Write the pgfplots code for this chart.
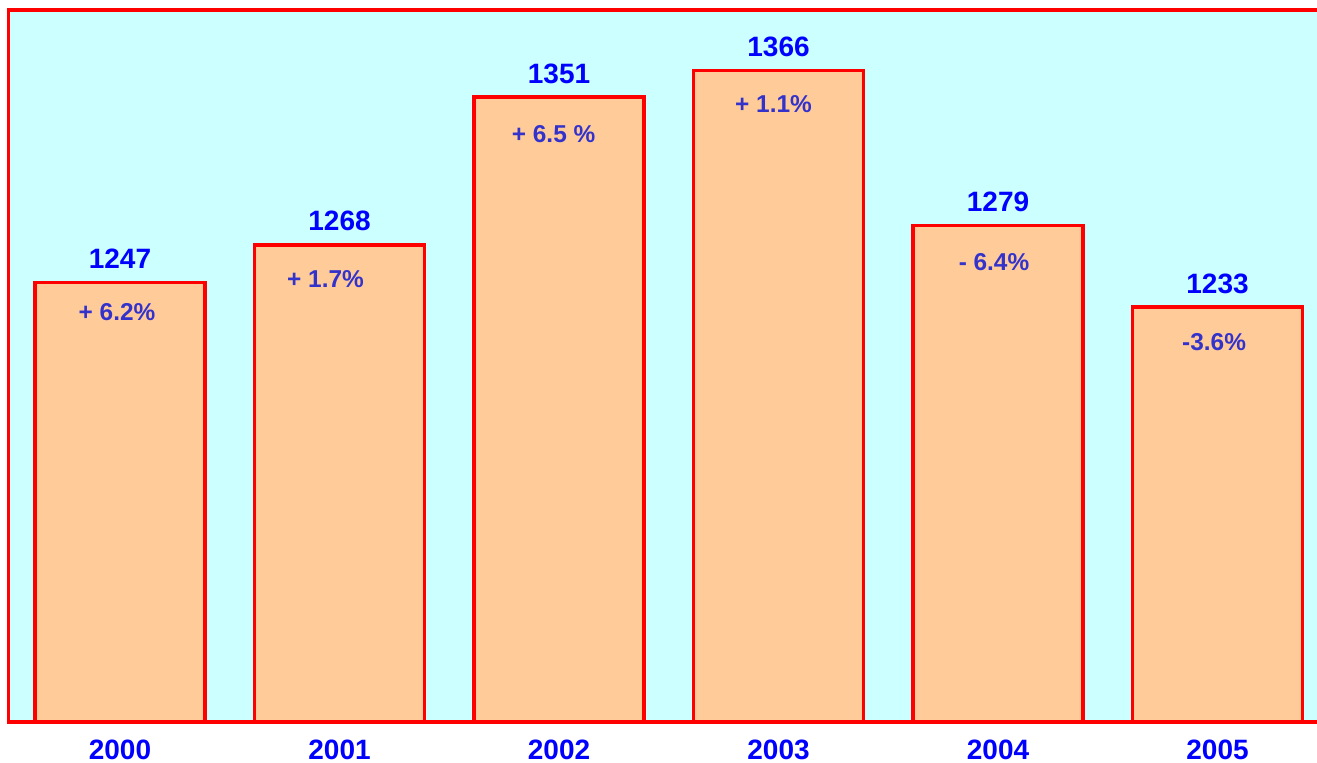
\documentclass[border=0pt]{standalone}
\usepackage{pgfplots}
\pgfplotsset{compat=1.18}
\usepackage{fontspec}
\setmainfont{Liberation Sans}
\definecolor{bgc}{HTML}{CCFFFF}
\definecolor{barc}{HTML}{FFCC99}
\definecolor{valc}{HTML}{0000FF}
\definecolor{pctc}{HTML}{3333CC}
\definecolor{framec}{HTML}{FF0000}
\begin{document}
\begin{tikzpicture}
\begin{axis}[
  at={(0,0)}, anchor=south west,
  scale only axis, width=658bp, height=356bp,
  xmin=-0.508, xmax=5.4875, ymin=1000, ymax=1400,
  axis line style={draw=framec, line width=1.8bp},
  axis background/.style={fill=bgc},
  ytick=\empty, xtick={0,1,2,3,4,5},
  xticklabels={2000,2001,2002,2003,2004,2005},
  major tick length=0pt,
  xticklabel style={font=\fontsize{14bp}{16bp}\selectfont\bfseries, text=valc, anchor=base, inner sep=0pt, yshift=-18.5bp},
  ybar, bar width=85bp,
  point meta=explicit symbolic,
  nodes near coords={\pgfplotspointmeta},
  nodes near coords style={font=\fontsize{14bp}{16bp}\selectfont\bfseries, text=valc, anchor=south, inner sep=0pt, yshift=6.0bp},
  clip=false,
]
\addplot[fill=barc, draw=framec, line width=1.8bp] coordinates {
  (0,1247)[1247] (1,1268)[1268] (2,1351)[1351] (3,1366)[1366] (4,1279)[1279] (5,1233)[1233]};
\begin{scope}[every node/.style={font=\fontsize{12.2bp}{14bp}\selectfont\bfseries, text=pctc, anchor=base, inner sep=0pt}]
\node[xshift=-1.5bp, yshift=-19bp] at (axis cs:0,1247) {+ 6.2\%};
\node[xshift=-7bp, yshift=-21.3bp] at (axis cs:1,1268) {+ 1.7\%};
\node[xshift=-2.7bp, yshift=-22.8bp] at (axis cs:2,1351) {+ 6.5 \%};
\node[xshift=-2.5bp, yshift=-20.8bp] at (axis cs:3,1366) {+ 1.1\%};
\node[xshift=-2bp, yshift=-22.5bp] at (axis cs:4,1279) {- 6.4\%};
\node[xshift=-1.7bp, yshift=-21.7bp] at (axis cs:5,1233) {-3.6\%};
\end{scope}
\end{axis}
\pgfresetboundingbox
\path[use as bounding box] (-4.25bp,-20.5bp) rectangle (654.25bp,361bp);
\end{tikzpicture}
\end{document}
